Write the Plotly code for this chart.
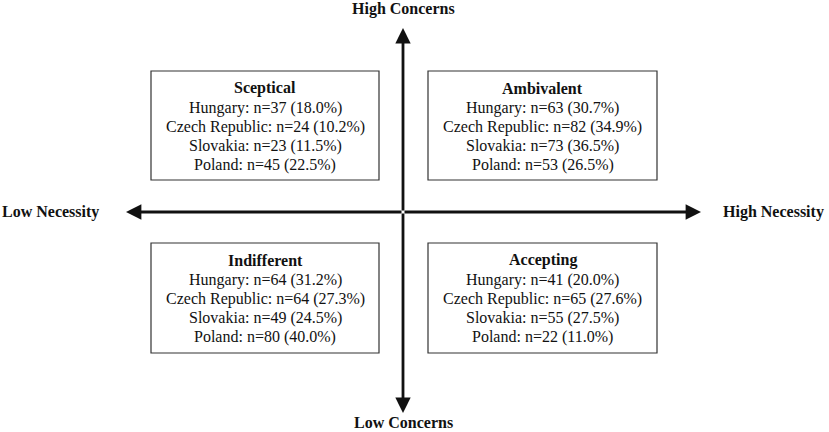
import plotly.graph_objects as go

# ---- data ----
countries = ["Hungary", "Czech Republic", "Slovakia", "Poland"]
quadrants = ["Sceptical", "Ambivalent", "Indifferent", "Accepting"]
n_sceptical = [37, 24, 23, 45]
pct_sceptical = [18.0, 10.2, 11.5, 22.5]
n_ambivalent = [63, 82, 73, 53]
pct_ambivalent = [30.7, 34.9, 36.5, 26.5]
n_indifferent = [64, 64, 49, 80]
pct_indifferent = [31.2, 27.3, 24.5, 40.0]
n_accepting = [41, 65, 55, 22]
pct_accepting = [20.0, 27.6, 27.5, 11.0]
axis_labels = {"top": "High Concerns", "bottom": "Low Concerns",
               "left": "Low Necessity", "right": "High Necessity"}

W, H = 829, 432
FONT = "Liberation Serif, Times New Roman, serif"
INK = "#111111"

fig = go.Figure()
fig.add_trace(go.Scatter(x=[0, W], y=[0, H], mode="markers",
                         marker=dict(opacity=0), hoverinfo="skip", showlegend=False))

# layout geometry (pixels)
cx, cy = 403, 212
boxes = {
    "Sceptical": (151, 71, 379, 180),
    "Ambivalent": (428, 71, 657, 180),
    "Indifferent": (151, 243, 379, 353),
    "Accepting": (428, 243, 657, 353),
}
values = {
    "Sceptical": (n_sceptical, pct_sceptical),
    "Ambivalent": (n_ambivalent, pct_ambivalent),
    "Indifferent": (n_indifferent, pct_indifferent),
    "Accepting": (n_accepting, pct_accepting),
}

shapes = []
annotations = []
for q in quadrants:
    x0, y0, x1, y1 = boxes[q]
    shapes.append(dict(type="rect", xref="x", yref="y", x0=x0, y0=y0, x1=x1, y1=y1,
                       line=dict(color="#333333", width=1.2), fillcolor="white", layer="below"))
    xm = (x0 + x1) / 2
    annotations.append(dict(x=xm, y=y0 + 17, xref="x", yref="y", text="<b>%s</b>" % q,
                            showarrow=False, font=dict(family=FONT, size=16, color=INK),
                            xanchor="center", yanchor="middle"))
    ns, ps = values[q]
    for i, (c, n, p) in enumerate(zip(countries, ns, ps)):
        annotations.append(dict(x=xm, y=y0 + 36.5 + 19.2 * i, xref="x", yref="y",
                                text="%s: n=%d (%.1f%%)" % (c, n, p),
                                showarrow=False, font=dict(family=FONT, size=16, color=INK),
                                xanchor="center", yanchor="middle"))

# axis arrows
arrow_common = dict(xref="x", yref="y", axref="x", ayref="y", showarrow=True,
                    arrowhead=2, arrowsize=1.1, arrowwidth=2.8, arrowcolor=INK,
                    text="", standoff=0, startstandoff=0)
annotations.append(dict(x=cx, y=28, ax=cx, ay=cy, **arrow_common))
annotations.append(dict(x=cx, y=413, ax=cx, ay=cy, **arrow_common))
annotations.append(dict(x=126, y=cy, ax=cx, ay=cy, **arrow_common))
annotations.append(dict(x=701, y=cy, ax=cx, ay=cy, **arrow_common))

# axis labels
lab_font = dict(family=FONT, size=16, color=INK)
annotations.append(dict(x=cx, y=9, xref="x", yref="y", text="<b>%s</b>" % axis_labels["top"],
                        showarrow=False, font=lab_font, xanchor="center", yanchor="middle"))
annotations.append(dict(x=cx, y=422, xref="x", yref="y", text="<b>%s</b>" % axis_labels["bottom"],
                        showarrow=False, font=lab_font, xanchor="center", yanchor="middle"))
annotations.append(dict(x=101, y=cy, xref="x", yref="y", text="<b>%s</b>" % axis_labels["left"],
                        showarrow=False, font=lab_font, xanchor="right", yanchor="middle"))
annotations.append(dict(x=721, y=cy, xref="x", yref="y", text="<b>%s</b>" % axis_labels["right"],
                        showarrow=False, font=lab_font, xanchor="left", yanchor="middle"))

fig.update_layout(
    width=W, height=H, margin=dict(l=0, r=0, t=0, b=0),
    paper_bgcolor="white", plot_bgcolor="white",
    xaxis=dict(range=[0, W], visible=False, fixedrange=True),
    yaxis=dict(range=[H, 0], visible=False, fixedrange=True),
    shapes=shapes, annotations=annotations, showlegend=False,
)
fig.write_html("out.html", config={"displayModeBar": False},
               post_script="document.body.style.margin='0';document.body.style.overflow='hidden';")
